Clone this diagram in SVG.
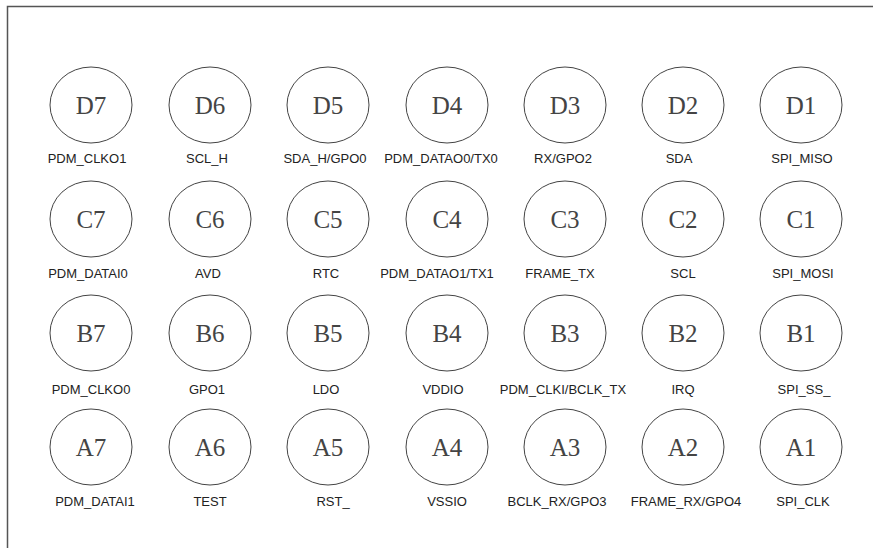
<svg xmlns="http://www.w3.org/2000/svg" width="873" height="548" viewBox="0 0 873 548">
<style>
.pad{fill:none;stroke:#444;stroke-width:1}
.pin{font-family:"Liberation Serif",serif;font-size:25px;fill:#444;text-anchor:middle}
.lbl{font-family:"Liberation Sans",Arial,sans-serif;font-size:13px;fill:#222;text-anchor:middle}
.frame{fill:none;stroke:#555;stroke-width:1.5}
</style>
<rect width="873" height="548" fill="#fff"/>
<path class="frame" d="M7.5,548 V6.5 H873"/>
<g id="connectors"></g>
<g id="D7"><ellipse class="pad" cx="91" cy="105" rx="41" ry="38"/><text class="pin" x="91" y="114">D7</text><text class="lbl" x="87" y="163">PDM_CLKO1</text></g>
<g id="D6"><ellipse class="pad" cx="210" cy="105" rx="41" ry="38"/><text class="pin" x="210" y="114">D6</text><text class="lbl" x="207" y="163">SCL_H</text></g>
<g id="D5"><ellipse class="pad" cx="328" cy="105" rx="41" ry="38"/><text class="pin" x="328" y="114">D5</text><text class="lbl" x="325" y="163">SDA_H/GPO0</text></g>
<g id="D4"><ellipse class="pad" cx="447" cy="105" rx="41" ry="38"/><text class="pin" x="447" y="114">D4</text><text class="lbl" x="441" y="163">PDM_DATAO0/TX0</text></g>
<g id="D3"><ellipse class="pad" cx="565" cy="105" rx="41" ry="38"/><text class="pin" x="565" y="114">D3</text><text class="lbl" x="563" y="163">RX/GPO2</text></g>
<g id="D2"><ellipse class="pad" cx="683" cy="105" rx="41" ry="38"/><text class="pin" x="683" y="114">D2</text><text class="lbl" x="679" y="163">SDA</text></g>
<g id="D1"><ellipse class="pad" cx="801" cy="105" rx="41" ry="38"/><text class="pin" x="801" y="114">D1</text><text class="lbl" x="802" y="163">SPI_MISO</text></g>

<g id="C7"><ellipse class="pad" cx="91" cy="219" rx="41" ry="38"/><text class="pin" x="91" y="228">C7</text><text class="lbl" x="88" y="278">PDM_DATAI0</text></g>
<g id="C6"><ellipse class="pad" cx="210" cy="219" rx="41" ry="38"/><text class="pin" x="210" y="228">C6</text><text class="lbl" x="208" y="278">AVD</text></g>
<g id="C5"><ellipse class="pad" cx="328" cy="219" rx="41" ry="38"/><text class="pin" x="328" y="228">C5</text><text class="lbl" x="326" y="278">RTC</text></g>
<g id="C4"><ellipse class="pad" cx="447" cy="219" rx="41" ry="38"/><text class="pin" x="447" y="228">C4</text><text class="lbl" x="437" y="278">PDM_DATAO1/TX1</text></g>
<g id="C3"><ellipse class="pad" cx="565" cy="219" rx="41" ry="38"/><text class="pin" x="565" y="228">C3</text><text class="lbl" x="560" y="278">FRAME_TX</text></g>
<g id="C2"><ellipse class="pad" cx="683" cy="219" rx="41" ry="38"/><text class="pin" x="683" y="228">C2</text><text class="lbl" x="683" y="278">SCL</text></g>
<g id="C1"><ellipse class="pad" cx="801" cy="219" rx="41" ry="38"/><text class="pin" x="801" y="228">C1</text><text class="lbl" x="803" y="278">SPI_MOSI</text></g>

<g id="B7"><ellipse class="pad" cx="91" cy="333" rx="41" ry="38"/><text class="pin" x="91" y="342">B7</text><text class="lbl" x="91" y="394">PDM_CLKO0</text></g>
<g id="B6"><ellipse class="pad" cx="210" cy="333" rx="41" ry="38"/><text class="pin" x="210" y="342">B6</text><text class="lbl" x="207" y="394">GPO1</text></g>
<g id="B5"><ellipse class="pad" cx="328" cy="333" rx="41" ry="38"/><text class="pin" x="328" y="342">B5</text><text class="lbl" x="326" y="394">LDO</text></g>
<g id="B4"><ellipse class="pad" cx="447" cy="333" rx="41" ry="38"/><text class="pin" x="447" y="342">B4</text><text class="lbl" x="443" y="394">VDDIO</text></g>
<g id="B3"><ellipse class="pad" cx="565" cy="333" rx="41" ry="38"/><text class="pin" x="565" y="342">B3</text><text class="lbl" x="563" y="394">PDM_CLKI/BCLK_TX</text></g>
<g id="B2"><ellipse class="pad" cx="683" cy="333" rx="41" ry="38"/><text class="pin" x="683" y="342">B2</text><text class="lbl" x="683" y="394">IRQ</text></g>
<g id="B1"><ellipse class="pad" cx="801" cy="333" rx="41" ry="38"/><text class="pin" x="801" y="342">B1</text><text class="lbl" x="804" y="394">SPI_SS_</text></g>

<g id="A7"><ellipse class="pad" cx="91" cy="447" rx="41" ry="38"/><text class="pin" x="91" y="456">A7</text><text class="lbl" x="95" y="506">PDM_DATAI1</text></g>
<g id="A6"><ellipse class="pad" cx="210" cy="447" rx="41" ry="38"/><text class="pin" x="210" y="456">A6</text><text class="lbl" x="210" y="506">TEST</text></g>
<g id="A5"><ellipse class="pad" cx="328" cy="447" rx="41" ry="38"/><text class="pin" x="328" y="456">A5</text><text class="lbl" x="333" y="506">RST_</text></g>
<g id="A4"><ellipse class="pad" cx="447" cy="447" rx="41" ry="38"/><text class="pin" x="447" y="456">A4</text><text class="lbl" x="447" y="506">VSSIO</text></g>
<g id="A3"><ellipse class="pad" cx="565" cy="447" rx="41" ry="38"/><text class="pin" x="565" y="456">A3</text><text class="lbl" x="557" y="506">BCLK_RX/GPO3</text></g>
<g id="A2"><ellipse class="pad" cx="683" cy="447" rx="41" ry="38"/><text class="pin" x="683" y="456">A2</text><text class="lbl" x="686" y="506">FRAME_RX/GPO4</text></g>
<g id="A1"><ellipse class="pad" cx="801" cy="447" rx="41" ry="38"/><text class="pin" x="801" y="456">A1</text><text class="lbl" x="803" y="506">SPI_CLK</text></g>
</svg>
